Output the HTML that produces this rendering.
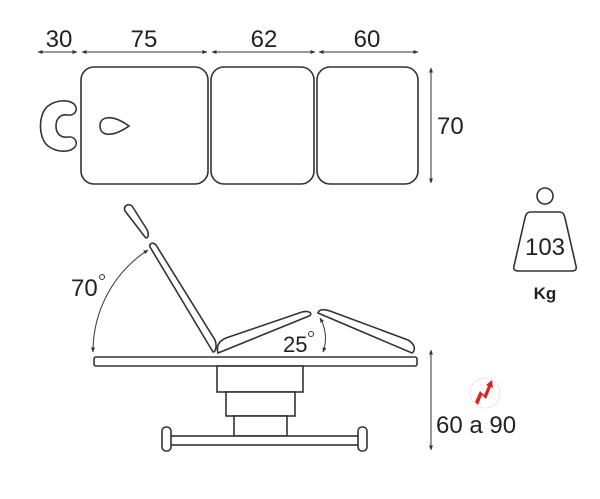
<!DOCTYPE html>
<html><head><meta charset="utf-8"><style>
html,body{margin:0;padding:0;background:#fff;}
svg{display:block;}
text{font-family:"Liberation Sans",sans-serif;fill:#222;}
</style></head><body>
<svg width="600" height="499" viewBox="0 0 600 499" xmlns="http://www.w3.org/2000/svg">
<defs>
<marker id="a" viewBox="0 0 10 10" refX="9" refY="5" markerWidth="5" markerHeight="5" orient="auto-start-reverse"><path d="M0,1 L10,5 L0,9 z" fill="#333"/></marker>
</defs>
<g stroke="#333" stroke-width="1" fill="none">
<line x1="38" y1="52" x2="77" y2="52" marker-start="url(#a)" marker-end="url(#a)"/>
<line x1="82" y1="52" x2="207" y2="52" marker-start="url(#a)" marker-end="url(#a)"/>
<line x1="212" y1="52" x2="315" y2="52" marker-start="url(#a)" marker-end="url(#a)"/>
<line x1="319" y1="52" x2="418" y2="52" marker-start="url(#a)" marker-end="url(#a)"/>
<line x1="431" y1="68" x2="431" y2="183" marker-start="url(#a)" marker-end="url(#a)"/>
<line x1="431" y1="350" x2="431" y2="450" marker-start="url(#a)" marker-end="url(#a)"/>
</g>
<g stroke="#333" stroke-width="1.6" fill="#fff">
<rect x="81" y="67" width="127" height="117" rx="13"/>
<rect x="211" y="67" width="103" height="117" rx="13"/>
<rect x="317" y="67" width="101" height="117" rx="13"/>
<path d="M74,104 C68,99 56,100 48,106 C38,114 38,138 48,146 C56,152 68,153 74,148 C79,143 75,136 68,137 C61,138 56,134 56,126 C56,118 61,114 68,115 C75,116 79,109 74,104 z"/>
<path d="M100,126 C100,116 112,114 129,126 C112,138 100,136 100,126 z"/>
<rect x="94" y="357" width="323" height="9" rx="2"/>
<path d="M125,211 C123,206 128,203 132,206 L146,228 C150,234 148,240 145,237 Z"/>
<path d="M150,247 C149,243 153,242 156,245 L215,340 C217,345 216,352 213,352 Z"/>
<path d="M218,353 C216,346 219,341 226,338 L302,312 C310,310 313,314 309,316 Z"/>
<path d="M318,313 C319,309 324,309 330,311 L408,340 C415,344 416,350 412,353 Z"/>
<rect x="217" y="366" width="86" height="26"/>
<rect x="226" y="392" width="69" height="24"/>
<rect x="234" y="416" width="53" height="20"/>
<rect x="170" y="436" width="190" height="9"/>
<rect x="162" y="427" width="9" height="24" rx="4"/>
<rect x="358" y="427" width="9" height="24" rx="4"/>
<circle cx="545" cy="196" r="8"/>
<path d="M531,212 L559,212 C563,212 564,214 565,218 L576,266 C577,270 575,271 571,271 L519,271 C515,271 513,270 514,266 L525,218 C526,214 527,212 531,212 Z"/>
</g>
<g stroke="#333" stroke-width="1" fill="none">
<path d="M93,352 A121,121 0 0 1 148,250" marker-start="url(#a)" marker-end="url(#a)"/>
<path d="M320,318 A40,40 0 0 1 323,352" marker-start="url(#a)" marker-end="url(#a)"/>
</g>
<circle cx="485" cy="393" r="15" fill="#fff" stroke="#e6e6e6" stroke-width="1"/>
<path d="M475,402 L480,391 L484,395 L488,386 L486,385 L492,380 L493,388 L491,387 L486,399 L482,395 L478,405 Z" fill="#e02020"/>
<g font-size="24">
<text x="59" y="47" text-anchor="middle">30</text>
<text x="144" y="47" text-anchor="middle">75</text>
<text x="264" y="47" text-anchor="middle">62</text>
<text x="367" y="47" text-anchor="middle">60</text>
<text x="437" y="134">70</text>
<text x="71" y="296">70</text>
<text x="283" y="352" font-size="22">25</text>
<text x="436" y="433">60 a 90</text>
<text x="545" y="255" text-anchor="middle">103</text>
</g>
<g stroke="#333" stroke-width="1" fill="none">
<circle cx="102" cy="277" r="2.5"/>
<circle cx="311" cy="334" r="2.5"/>
</g>
<text x="545" y="299" text-anchor="middle" font-size="17" font-weight="bold">Kg</text>
</svg>
</body></html>
